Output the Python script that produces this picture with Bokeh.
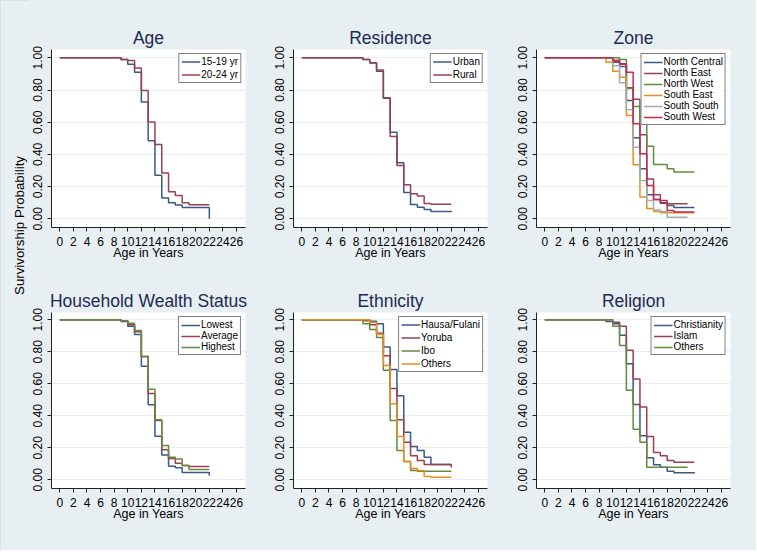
import math
from bokeh.plotting import figure
from bokeh.layouts import row, column
from bokeh.models import Range1d, FixedTicker, Label
from bokeh.embed import file_html
from bokeh.resources import INLINE

# ---------------- data ----------------
X_TICKS = [0, 2, 4, 6, 8, 10, 12, 14, 16, 18, 20, 22, 24, 26]
Y_TICKS = [0.0, 0.2, 0.4, 0.6, 0.8, 1.0]
Y_TICK_LABELS = ["0.00", "0.20", "0.40", "0.60", "0.80", "1.00"]

AGES = [0, 9, 10, 11, 12, 13, 14, 15, 16, 17, 18, 19, 22]
AGES_21 = [0, 9, 10, 11, 12, 13, 14, 15, 16, 17, 18, 19, 21]

# Age
age_labels = ["15-19 yr", "20-24 yr"]
age_15_19 = [1.0, 0.99, 0.96, 0.91, 0.725, 0.485, 0.27, 0.13, 0.10, 0.085, 0.07, 0.07, 0.0]
age_20_24 = [1.0, 0.99, 0.983, 0.936, 0.797, 0.602, 0.462, 0.284, 0.168, 0.145, 0.099, 0.088, 0.088]

# Residence
res_labels = ["Urban", "Rural"]
res_urban = [1.0, 0.99, 0.967, 0.917, 0.749, 0.538, 0.348, 0.164, 0.089, 0.072, 0.058, 0.046, 0.042]
res_rural = [1.0, 0.99, 0.97, 0.925, 0.752, 0.511, 0.331, 0.211, 0.155, 0.141, 0.095, 0.091, 0.091]

# Zone
zone_labels = ["North Central", "North East", "North West", "South East", "South South", "South West"]
zone_nc = [1.0, 1.0, 0.973, 0.946, 0.735, 0.503, 0.311, 0.149, 0.12, 0.097, 0.083, 0.07, 0.07]
zone_ne = [1.0, 1.0, 0.985, 0.963, 0.814, 0.743, 0.522, 0.248, 0.149, 0.114, 0.093, 0.093, 0.093]
zone_nw = [1.0, 1.0, 1.0, 0.99, 0.81, 0.698, 0.59, 0.451, 0.337, 0.337, 0.311, 0.29, 0.29]
zone_se = [1.0, 0.973, 0.917, 0.88, 0.642, 0.335, 0.135, 0.064, 0.046, 0.038, 0.038, 0.038, 0.038]
zone_ss = [1.0, 1.0, 0.95, 0.845, 0.677, 0.445, 0.238, 0.114, 0.054, 0.046, 0.01, 0.01, 0.01]
zone_sw = [1.0, 1.0, 0.98, 0.96, 0.911, 0.59, 0.404, 0.207, 0.12, 0.099, 0.052, 0.042, 0.042]

# Household wealth status
wealth_labels = ["Lowest", "Average", "Highest"]
wealth_low = [1.0, 0.99, 0.96, 0.908, 0.71, 0.47, 0.273, 0.156, 0.085, 0.075, 0.046, 0.046, 0.025]
wealth_avg = [1.0, 0.995, 0.969, 0.925, 0.769, 0.54, 0.371, 0.188, 0.133, 0.104, 0.09, 0.083, 0.083]
wealth_high = [1.0, 0.995, 0.979, 0.933, 0.773, 0.567, 0.375, 0.215, 0.142, 0.131, 0.09, 0.065, 0.065]

# Ethnicity
eth_labels = ["Hausa/Fulani", "Yoruba", "Ibo", "Others"]
eth_hausa = [1.0, 1.0, 0.992, 0.975, 0.831, 0.69, 0.525, 0.298, 0.208, 0.183, 0.142, 0.096, 0.096]
eth_yoruba = [1.0, 0.995, 0.97, 0.917, 0.775, 0.571, 0.375, 0.235, 0.15, 0.121, 0.096, 0.096, 0.078]
eth_ibo = [1.0, 0.975, 0.94, 0.89, 0.685, 0.371, 0.183, 0.115, 0.058, 0.054, 0.054, 0.054, 0.054]
eth_others = [1.0, 1.0, 0.985, 0.91, 0.715, 0.475, 0.271, 0.115, 0.071, 0.058, 0.021, 0.017, 0.017]

# Religion
rel_labels = ["Christianity", "Islam", "Others"]
rel_christ = [1.0, 0.99, 0.975, 0.904, 0.725, 0.471, 0.275, 0.138, 0.094, 0.079, 0.054, 0.044, 0.04]
rel_islam = [1.0, 1.0, 0.985, 0.96, 0.81, 0.631, 0.456, 0.271, 0.171, 0.15, 0.121, 0.11, 0.11]
rel_others = [1.0, 1.0, 0.96, 0.84, 0.56, 0.317, 0.235, 0.079, 0.079, 0.079, 0.079, 0.079, 0.079]

# ---------------- style ----------------
BG = "#E8EFF2"
GRID = "#E6EEF0"
TITLE_COLOR = "#1C2A52"
FONT = "Liberation Sans"
C_NAVY = "#3A5888"
C_MAROON = "#9A4150"
C_GREEN = "#648A3E"
C_ORANGE = "#E58E22"
C_TEAL = "#9DB1AC"
C_CRAN = "#C42A50"

X_RANGE = (-1.22, 27.32)


def panel(title, series, labels, colors, width, height, bl, br, bt, bb,
          y_rng, spacing, label_h):
    p = figure(width=width, height=height,
               x_range=Range1d(*X_RANGE), y_range=Range1d(*y_rng),
               toolbar_location=None, output_backend="svg",
               min_border_left=bl, min_border_right=br,
               min_border_top=bt, min_border_bottom=bb,
               background_fill_color="white", border_fill_color=BG,
               outline_line_color=None)
    p.title.text = title
    p.title.align = "center"
    p.title.text_font = FONT
    p.title.text_font_size = "17.5px"
    p.title.text_font_style = "normal"
    p.title.text_color = TITLE_COLOR
    p.title.standoff = 3

    for (xs, ys), lab, col in zip(series, labels, colors):
        p.step(xs, ys, mode="after", line_color=col, line_width=1.5,
               legend_label=lab)

    p.xaxis.ticker = FixedTicker(ticks=X_TICKS)
    p.xaxis.axis_label = "Age in Years"
    p.xaxis.axis_label_text_font = FONT
    p.xaxis.axis_label_text_font_size = "12.5px"
    p.xaxis.axis_label_text_font_style = "normal"
    p.xaxis.axis_label_text_color = "black"
    p.xaxis.axis_label_standoff = -3

    p.yaxis.ticker = FixedTicker(ticks=Y_TICKS)
    p.yaxis.major_label_overrides = {t: s for t, s in zip(Y_TICKS, Y_TICK_LABELS)}
    p.yaxis.major_label_orientation = "vertical"

    for ax in (p.xaxis, p.yaxis):
        ax.major_label_text_font = FONT
        ax.major_label_text_font_size = "12px"
        ax.major_label_text_color = "black"
        ax.major_tick_out = 4
        ax.major_tick_in = 0
        ax.minor_tick_out = 0
        ax.minor_tick_in = 0
        ax.axis_line_color = "#222222"
        ax.major_tick_line_color = "#222222"
        ax.major_label_standoff = 5

    p.xgrid.visible = False
    p.ygrid.grid_line_color = GRID
    p.ygrid.grid_line_width = 1

    lg = p.legend[0]
    lg.location = "top_right"
    lg.margin = 4
    lg.padding = 2
    lg.spacing = spacing
    lg.label_height = label_h
    lg.glyph_height = label_h
    lg.glyph_width = 19
    lg.label_standoff = 1
    lg.label_text_font = FONT
    lg.label_text_font_size = "10px"
    lg.label_text_color = "black"
    lg.label_text_baseline = "middle"
    lg.border_line_color = "black"
    lg.border_line_width = 1.2
    lg.background_fill_color = "white"
    lg.background_fill_alpha = 1.0
    return p


TOP_Y = (-0.054, 1.0516)
BOT_Y = (-0.054, 1.046)

# column widths: 28 (label) + 242 + 243 + 243 = 756 ; rows: 270 + 280 = 550
p1 = panel("Age", [(AGES, age_15_19), (AGES, age_20_24)], age_labels,
           [C_NAVY, C_MAROON], 242, 270, 23, 25, 49, 43, TOP_Y, 2, 11)
p2 = panel("Residence", [(AGES, res_urban), (AGES, res_rural)], res_labels,
           [C_NAVY, C_MAROON], 243, 270, 23, 26, 49, 43, TOP_Y, 2, 11)
p3 = panel("Zone",
           [(AGES, zone_nc), (AGES_21, zone_ne), (AGES, zone_nw),
            (AGES, zone_se), (AGES_21, zone_ss), (AGES, zone_sw)],
           zone_labels,
           [C_NAVY, C_MAROON, C_GREEN, C_ORANGE, C_TEAL, C_CRAN],
           243, 270, 23, 26, 49, 43, TOP_Y, 0, 10)
p4 = panel("Household Wealth Status",
           [(AGES, wealth_low), (AGES, wealth_avg), (AGES, wealth_high)],
           wealth_labels, [C_NAVY, C_MAROON, C_GREEN],
           242, 280, 23, 25, 42, 62, BOT_Y, 0, 10)
p5 = panel("Ethnicity",
           [(AGES, eth_hausa), (AGES, eth_yoruba), (AGES, eth_ibo), (AGES, eth_others)],
           eth_labels, [C_NAVY, C_MAROON, C_GREEN, C_ORANGE],
           243, 280, 23, 26, 42, 62, BOT_Y, 2, 11)
p6 = panel("Religion",
           [(AGES, rel_christ), (AGES, rel_islam), (AGES_21, rel_others)],
           rel_labels, [C_NAVY, C_MAROON, C_GREEN],
           243, 280, 23, 26, 42, 62, BOT_Y, 0, 10)

# common y label
lab_fig = figure(width=28, height=550, x_range=Range1d(0, 28), y_range=Range1d(0, 550),
                 toolbar_location=None, output_backend="svg",
                 x_axis_location=None, y_axis_location=None,
                 min_border_left=0, min_border_right=0, min_border_top=0, min_border_bottom=0,
                 background_fill_color=BG, border_fill_color=BG, outline_line_color=None)
lab_fig.grid.visible = False
lab_fig.add_layout(Label(x=19, y=325, text="Survivorship Probability", angle=math.pi / 2,
                         text_align="center", text_baseline="middle",
                         text_font=FONT, text_font_size="13.3px", text_color="black"))

bgstyle = {"background-color": BG}
layout = row(lab_fig,
             column(row(p1, p2, p3, spacing=0, styles=bgstyle),
                    row(p4, p5, p6, spacing=0, styles=bgstyle),
                    spacing=0, styles=bgstyle),
             spacing=0,
             styles={"background-color": BG, "outline": "1px solid #CDD5D9",
                     "outline-offset": "-1px"})

open("out.html", "w").write(file_html(layout, INLINE))
